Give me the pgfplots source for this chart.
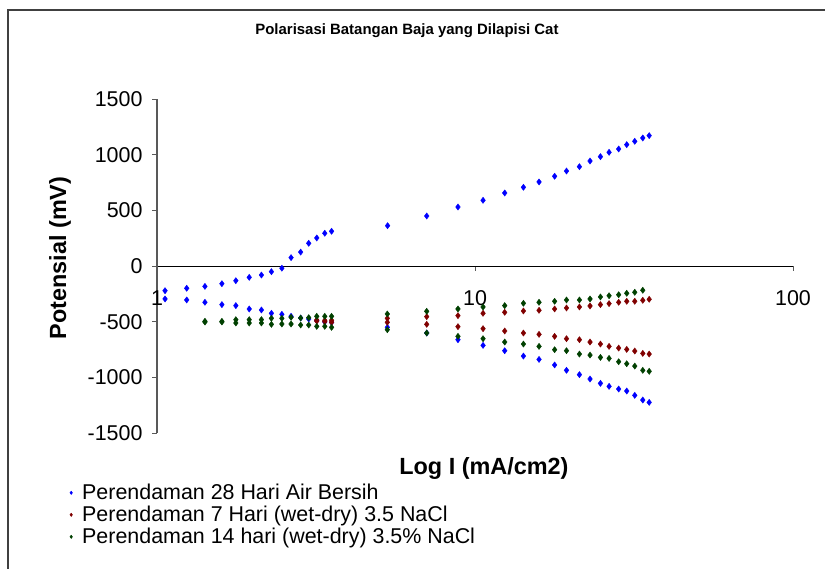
\documentclass[border=0pt]{standalone}
\usepackage{fontspec}
\setmainfont{Liberation Sans}
\usepackage{pgfplots}
\usepackage{pgfplotstable}
\pgfplotsset{compat=1.18}
\definecolor{sblue}{RGB}{0,0,255}
\definecolor{sred}{RGB}{128,0,0}
\definecolor{sgreen}{RGB}{0,64,0}
\definecolor{frame}{RGB}{64,64,64}
\pgfplotstableread{
x y
1.06 -222
1.24 -200
1.415 -183
1.60 -159
1.77 -132
1.95 -102
2.13 -81
2.29 -51
2.47 -20
2.64 75
2.83 125
3.00 204
3.18 252
3.37 294
3.54 312
5.31 362
7.05 449
8.84 530
10.6 590
12.4 656
14.2 707
15.9 755
17.8 806
19.4 853
21.3 892
23.0 943
24.8 982
26.4 1021
28.3 1051
30.0 1090
31.8 1120
33.7 1150
35.3 1171
1.06 -296
1.24 -305
1.415 -326
1.60 -347
1.77 -356
1.95 -386
2.13 -395
2.29 -425
2.47 -434
2.64 -452
2.83 -467
3.00 -476
3.18 -490
3.37 -502
3.54 -506
5.30 -551
7.05 -602
8.84 -662
10.6 -713
12.4 -761
14.2 -809
15.9 -839
17.8 -889
19.4 -937
21.3 -976
23.0 -1015
24.8 -1054
26.4 -1081
28.3 -1105
30.0 -1123
31.8 -1162
33.7 -1204
35.3 -1225
}\blueseries
\pgfplotstableread{
x y
3.18 -485
3.37 -488
3.54 -488
5.30 -470
7.05 -455
8.84 -446
10.6 -425
12.4 -416
14.2 -404
15.9 -398
17.8 -386
19.4 -377
21.3 -368
23.0 -359
24.8 -347
26.4 -338
28.3 -326
30.0 -317
31.8 -317
33.7 -308
35.3 -299
3.18 -495
3.37 -500
3.54 -506
5.30 -506
7.05 -524
8.84 -545
10.6 -563
12.4 -584
14.2 -602
15.9 -614
17.8 -632
19.4 -653
21.3 -662
23.0 -683
24.8 -701
26.4 -722
28.3 -737
30.0 -749
31.8 -764
33.7 -785
35.3 -791
}\redseries
\pgfplotstableread{
x y
1.415 -497
1.60 -497
1.77 -482
1.95 -482
2.13 -482
2.29 -470
2.47 -470
2.64 -461
2.83 -467
3.00 -464
3.18 -452
3.37 -452
3.54 -452
5.30 -431
7.05 -407
8.84 -386
10.6 -368
12.4 -356
14.2 -335
15.9 -326
17.8 -317
19.4 -305
21.3 -305
23.0 -296
24.8 -278
26.4 -267
28.3 -258
30.0 -245
31.8 -236
33.7 -218
1.415 -503
1.60 -503
1.77 -512
1.95 -512
2.13 -512
2.29 -524
2.47 -521
2.64 -521
2.83 -530
3.00 -530
3.18 -542
3.37 -542
3.54 -551
5.30 -572
7.05 -602
8.84 -632
10.6 -653
12.4 -683
14.2 -701
15.9 -722
17.8 -752
19.4 -761
21.3 -791
23.0 -800
24.8 -821
26.4 -830
28.3 -860
30.0 -878
31.8 -899
33.7 -937
35.3 -946
}\greenseries
\begin{document}
\begin{tikzpicture}[x=1bp,y=1bp]
\draw[line width=1.6bp, frame] (-149,-140) -- (-149,423) -- (672,423);
\begin{axis}[name=ax, at={(0,0)}, anchor=south west,
  scale only axis, width=636bp, height=334bp,
  xmode=log, log basis x=10, xmin=1, xmax=100, ymin=-1500, ymax=1500,
  axis x line*=middle, axis y line*=left,
  hide obscured x ticks=false,
  x axis line style={black, line width=0.9bp},
  y axis line style={gray!70!black, line width=1.1bp},
  xtick={1,10,100}, xticklabels={1,10,100}, minor xtick={},
  ytick={-1500,-1000,-500,0,500,1000,1500},
  yticklabels={-1500,-1000,-500,0,500,1000,1500},
  tick align=outside, major tick length=5bp,
  tick style={gray!70!black, line width=0.9bp},
  /pgf/number format/assume math mode=true,
  ticklabel style={font=\fontsize{21.5}{24}\selectfont},
  xticklabel style={anchor=north, yshift=-16bp},
  yticklabel style={anchor=east, xshift=-6bp},
  clip=false,
  title={Polarisasi Batangan Baja yang Dilapisi Cat},
  title style={at={(axis description cs:0.393,1.186)}, anchor=center, font=\fontsize{15}{18}\selectfont\bfseries},
  xlabel={Log I (mA/cm2)},
  xlabel style={at={(axis description cs:0.514,-0.105)}, anchor=center, font=\fontsize{23.5}{26}\selectfont\bfseries},
  ylabel={Potensial (mV)},
  ylabel style={at={(axis description cs:-0.1525,0.524)}, anchor=center, rotate=0, font=\fontsize{23.5}{26}\selectfont\bfseries},
  legend style={at={(axis description cs:-0.1415,-0.147)}, anchor=north west, draw=none, fill=none,
    font=\fontsize{21.5}{24}\selectfont, row sep=1bp, inner sep=0pt},
  legend cell align=left,
  legend image code/.code={\path[draw=none,fill=none] (0bp,-1bp) rectangle (13bp,1bp); \path[#1, draw=none] plot[only marks, mark=diamond*, mark size=1.7bp] coordinates {(4bp,0bp)};},
]
\addplot[only marks, mark=diamond*, mark size=3.1bp, sblue, mark options={draw=sblue, fill=sblue}] table[x=x,y=y] {\blueseries};
\addlegendentry{Perendaman 28 Hari Air Bersih}
\addplot[only marks, mark=diamond*, mark size=3.1bp, sred, mark options={draw=sred, fill=sred}] table[x=x,y=y] {\redseries};
\addlegendentry{Perendaman 7 Hari (wet-dry) 3.5 NaCl}
\addplot[only marks, mark=diamond*, mark size=3.1bp, sgreen, mark options={draw=sgreen, fill=sgreen}] table[x=x,y=y] {\greenseries};
\addlegendentry{Perendaman 14 hari (wet-dry) 3.5\% NaCl}
\end{axis}
\pgfresetboundingbox
\useasboundingbox (-157,-136) rectangle (668,433);
\end{tikzpicture}
\end{document}
